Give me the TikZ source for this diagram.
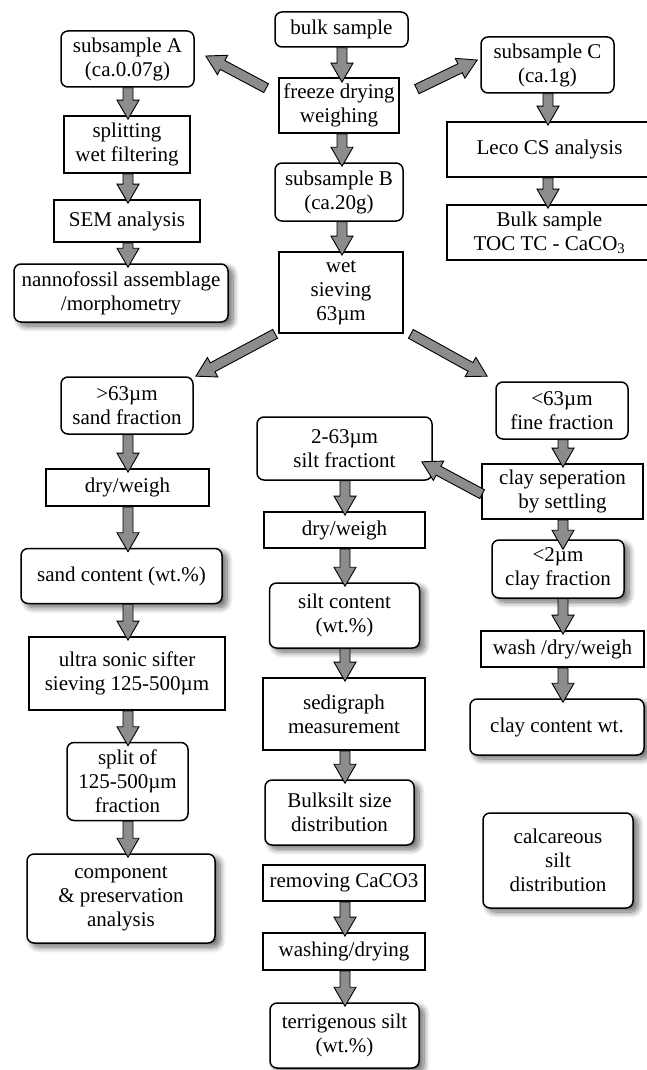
\documentclass[tikz,border=0pt]{standalone}
\usepackage{fontspec}
\setmainfont{Liberation Serif}
\usetikzlibrary{calc,shadows.blur}
\definecolor{arrgray}{RGB}{140,140,140}
\tikzset{
  base/.style={draw=black, fill=white, align=center, inner sep=0pt, font=\fontsize{21}{24}\selectfont},
  rbox/.style={base, rounded corners=7pt, line width=1.5pt},
  sbox/.style={base, rectangle, line width=1.7pt},
  shad/.style={blur shadow={shadow xshift=5pt, shadow yshift=-4pt, shadow blur radius=6pt, shadow blur steps=10, shadow opacity=60}},
  blockarrow/.style={draw=black, fill=arrgray, line width=0.9pt, line join=miter}
}
\newcommand{\blockarr}[2]{%
  \coordinate (baS) at #1;
  \coordinate (baE) at #2;
  \pgfpointdiff{\pgfpointanchor{baS}{center}}{\pgfpointanchor{baE}{center}}%
  \pgfgetlastxy{\baDx}{\baDy}%
  \pgfmathsetmacro{\baLen}{veclen(\baDx,\baDy)}%
  \pgfmathsetmacro{\baAng}{atan2(\baDy,\baDx)}%
  \pgfmathsetmacro{\baH}{\baLen-19}%
  \draw[blockarrow, shift={(baS)}, rotate=\baAng] (0pt,5pt) -- (\baH pt,5pt) -- (\baH pt,11pt) -- (\baLen pt,0pt) -- (\baH pt,-11pt) -- (\baH pt,-5pt) -- (0pt,-5pt) -- cycle;%
}
\begin{document}
\begin{tikzpicture}[x=1pt,y=-1pt]
\useasboundingbox (0,0) rectangle (646,1070);
% middle column
\node[rbox, minimum width=133pt, minimum height=35pt] (bulk) at (341.5,29.5) {bulk sample};
\node[sbox, minimum width=120pt, minimum height=55pt] (freeze) at (339,105.5) {freeze drying\\weighing};
\node[rbox, minimum width=128pt, minimum height=58pt] (subB) at (339,192) {subsample B\\(ca.20g)};
\node[sbox, minimum width=124pt, minimum height=81pt] (wet) at (341,292.5) {wet\\sieving\\63µm};
\node[rbox, minimum width=175pt, minimum height=63pt] (silt) at (344.5,448.5) {2-63µm\\silt fractiont};
\node[sbox, minimum width=161pt, minimum height=36pt] (dwM) at (344.5,530) {dry/weigh};
\node[rbox, shad, minimum width=150pt, minimum height=65pt] (siltc) at (344.5,615.5) {silt content\\(wt.\%)};
\node[sbox, minimum width=162pt, minimum height=72pt] (sedi) at (344,714) {sedigraph\\measurement};
\node[rbox, shad, minimum width=149pt, minimum height=65pt] (bsilt) at (339.5,812.5) {Bulksilt size\\distribution};
\node[sbox, minimum width=162pt, minimum height=36pt] (remove) at (344,883) {removing CaCO3};
\node[sbox, minimum width=162pt, minimum height=37pt] (washing) at (344,951.5) {washing/drying};
\node[rbox, shad, minimum width=149pt, minimum height=65pt] (terr) at (344.5,1035.5) {terrigenous silt\\(wt.\%)};
% left column
\node[rbox, minimum width=133pt, minimum height=56pt] (subA) at (127.5,59) {subsample A\\(ca.0.07g)};
\node[sbox, minimum width=126pt, minimum height=57pt] (split) at (127,144.5) {splitting\\wet filtering};
\node[sbox, minimum width=146pt, minimum height=42pt] (sem) at (127,221) {SEM analysis};
\node[rbox, shad, minimum width=214pt, minimum height=58pt] (nanno) at (121,293) {nannofossil assemblage\\/morphometry};
\node[rbox, minimum width=132pt, minimum height=57pt] (gt) at (127,405.5) {>63µm\\sand fraction};
\node[sbox, minimum width=163pt, minimum height=37pt] (dwL) at (127.5,487.5) {dry/weigh};
\node[rbox, shad, minimum width=201pt, minimum height=55pt] (sandc) at (121.5,576) {sand content (wt.\%)};
\node[sbox, minimum width=196pt, minimum height=73pt] (ultra) at (127,673.5) {ultra sonic sifter\\sieving 125-500µm};
\node[rbox, minimum width=121pt, minimum height=78pt] (splitof) at (127.5,781.5) {split of\\125-500µm\\fraction};
\node[rbox, shad, minimum width=188pt, minimum height=89pt] (comp) at (121,898.5) {component\\\& preservation\\analysis};
% right column
\node[rbox, minimum width=133pt, minimum height=56pt] (subC) at (547.5,65) {subsample C\\(ca.1g)};
\node[sbox, minimum width=205pt, minimum height=55pt] (leco) at (549.5,149.5) {Leco CS analysis};
\node[sbox, minimum width=205pt, minimum height=55pt] (toc) at (549.5,232.5) {Bulk sample\\TOC TC - CaCO\textsubscript{3}};
\node[rbox, minimum width=132pt, minimum height=57pt] (lt) at (562,410.5) {<63µm\\fine fraction};
\node[sbox, minimum width=161pt, minimum height=55pt] (clsep) at (562.5,491.5) {clay seperation\\by settling};
\node[rbox, shad, minimum width=132pt, minimum height=58pt] (clayfr) at (558,569) {<2µm\\clay fraction};
\node[sbox, minimum width=163pt, minimum height=36pt] (washR) at (562.5,649) {wash /dry/weigh};
\node[rbox, shad, minimum width=174pt, minimum height=56pt] (clayc) at (557,727) {clay content wt.};
\node[rbox, shad, minimum width=150pt, minimum height=95pt] (calc) at (558,860.5) {calcareous\\silt\\distribution};
% column coordinates
\coordinate (cL) at (128,0);
\coordinate (cM) at (342,0);
\coordinate (cMb) at (345,0);
\coordinate (cR) at (548,0);
\coordinate (cRb) at (563,0);
% vertical arrows
\blockarr{(cM |- bulk.south)}{($(cM |- freeze.north)+(0,5)$)}
\blockarr{(cM |- freeze.south)}{($(cM |- subB.north)+(0,4)$)}
\blockarr{(cM |- subB.south)}{($(cM |- wet.north)+(0,4)$)}
\blockarr{(cL |- subA.south)}{($(cL |- split.north)+(0,4)$)}
\blockarr{(cL |- split.south)}{($(cL |- sem.north)+(0,4)$)}
\blockarr{(cL |- sem.south)}{($(cL |- nanno.north)+(0,4)$)}
\blockarr{(cR |- subC.south)}{($(cR |- leco.north)+(0,4)$)}
\blockarr{(cR |- leco.south)}{($(cR |- toc.north)+(0,4)$)}
\blockarr{(cL |- gt.south)}{($(cL |- dwL.north)+(0,4)$)}
\blockarr{(cL |- dwL.south)}{($(cL |- sandc.north)+(0,4)$)}
\blockarr{(cL |- sandc.south)}{($(cL |- ultra.north)+(0,4)$)}
\blockarr{(cL |- ultra.south)}{($(cL |- splitof.north)+(0,4)$)}
\blockarr{(cL |- splitof.south)}{($(cL |- comp.north)+(0,4)$)}
\blockarr{(cMb |- silt.south)}{($(cMb |- dwM.north)+(0,4)$)}
\blockarr{(cMb |- dwM.south)}{($(cMb |- siltc.north)+(0,4)$)}
\blockarr{(cMb |- siltc.south)}{($(cMb |- sedi.north)+(0,4)$)}
\blockarr{(cMb |- sedi.south)}{($(cMb |- bsilt.north)+(0,4)$)}
\blockarr{(cMb |- remove.south)}{($(cMb |- washing.north)+(0,4)$)}
\blockarr{(cMb |- washing.south)}{($(cMb |- terr.north)+(0,4)$)}
\blockarr{(cRb |- lt.south)}{($(cRb |- clsep.north)+(0,4)$)}
\blockarr{(cRb |- clsep.south)}{($(cRb |- clayfr.north)+(0,10)$)}
\blockarr{(cRb |- clayfr.south)}{($(cRb |- washR.north)+(0,4)$)}
\blockarr{(cRb |- washR.south)}{($(cRb |- clayc.north)+(0,4)$)}
% diagonal arrows
\blockarr{($(freeze.north west)+(-12,11)$)}{($(subA.east)+(11,-3)$)}
\blockarr{($(freeze.north east)+(17,12)$)}{($(subC.west)+(-3,-5)$)}
\blockarr{($(wet.south west)+(-3,0)$)}{($(gt.north east)+(2,0)$)}
\blockarr{($(wet.south east)+(7,0)$)}{($(lt.north west)+(-8,-5)$)}
\blockarr{($(clsep.north west)+(1,31)$)}{($(silt.south east)+(-11,-19)$)}
\end{tikzpicture}
\end{document}
